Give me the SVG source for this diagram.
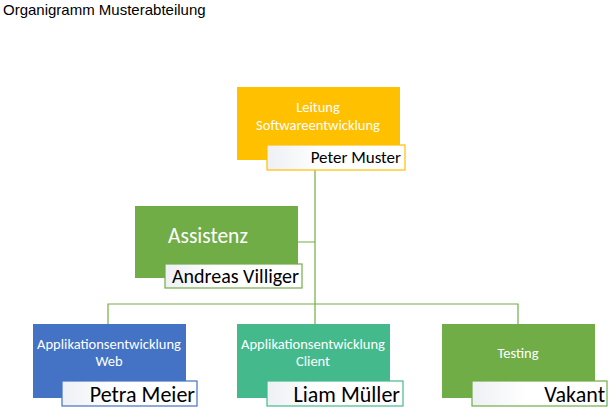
<svg xmlns="http://www.w3.org/2000/svg" width="613" height="409" viewBox="0 0 613 409">
<defs>
<linearGradient id="lg" x1="0" y1="0" x2="1" y2="0"><stop offset="0" stop-color="#eef0f4"/><stop offset="0.4" stop-color="#ffffff"/></linearGradient>
<style>
.t{font-family:Calibri,"Carlito","Open Sans","Liberation Sans",sans-serif;fill:#fff;text-anchor:middle}
.n{font-family:Calibri,"Carlito","Open Sans","Liberation Sans",sans-serif;fill:#000;text-anchor:end}
.c{fill:none;stroke:#70ad47;stroke-width:1.2}
.l{fill:url(#lg);stroke-width:1.2}
</style>
</defs>
<rect width="613" height="409" fill="#fff"/>
<text x="3" y="15" font-family="Liberation Sans,Arial,sans-serif" font-size="15">Organigramm Musterabteilung</text>
<g id="connectors">
<path class="c" d="M315 170V304M298 242H315M108 324V304H518V324M315 304V324"/>
</g>
<g id="n1">
<rect x="237" y="87" width="163" height="73" fill="#ffc000"/>
<text class="t" x="318" y="112" font-size="14.5">Leitung</text>
<text class="t" x="318" y="130" font-size="14.5">Softwareentwicklung</text>
<rect class="l" x="267" y="145" width="138" height="25" stroke="#ffc000"/>
<text class="n" x="401" y="163" font-size="17">Peter Muster</text>
</g>
<g id="n2">
<rect x="135" y="206" width="163" height="72" fill="#70ad47"/>
<text class="t" x="208" y="243" font-size="21.5">Assistenz</text>
<rect class="l" x="165" y="264" width="137" height="24" stroke="#70ad47"/>
<text class="n" x="299" y="283" font-size="20">Andreas Villiger</text>
</g>
<g id="n3">
<rect x="33" y="324" width="153" height="74" fill="#4472c4"/>
<text class="t" x="109" y="349" font-size="14.5">Applikationsentwicklung</text>
<text class="t" x="109" y="366" font-size="14.5">Web</text>
<rect class="l" x="62" y="381" width="135" height="25" stroke="#4472c4"/>
<text class="n" x="195" y="402" font-size="22">Petra Meier</text>
</g>
<g id="n4">
<rect x="237" y="324" width="153" height="74" fill="#43b98c"/>
<text class="t" x="313" y="349" font-size="14.5">Applikationsentwicklung</text>
<text class="t" x="313" y="366" font-size="14.5">Client</text>
<rect class="l" x="267" y="381" width="136" height="25" stroke="#43b98c"/>
<text class="n" x="400" y="402" font-size="22">Liam Müller</text>
</g>
<g id="n5">
<rect x="442" y="324" width="153" height="74" fill="#70ad47"/>
<text class="t" x="518" y="358" font-size="14.5">Testing</text>
<rect class="l" x="472" y="381" width="135" height="25" stroke="#70ad47"/>
<text class="n" x="605" y="402" font-size="22">Vakant</text>
</g>
</svg>
